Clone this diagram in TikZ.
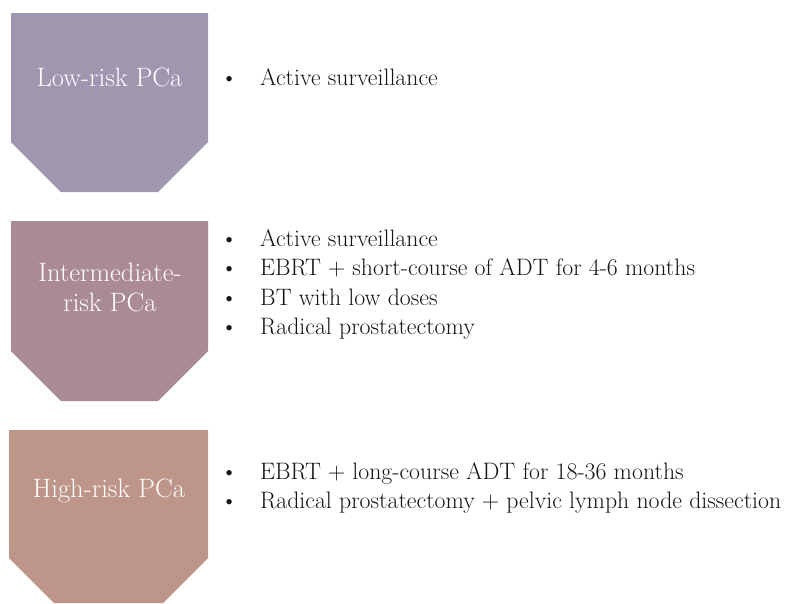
\documentclass[tikz,border=0pt]{standalone}
\usepackage{fontspec}
\setmainfont{Latin Modern Roman}
\definecolor{lowrisk}{HTML}{A196B0}
\definecolor{midrisk}{HTML}{AA8B93}
\definecolor{highrisk}{HTML}{BD9589}
\definecolor{bodytext}{HTML}{151515}
\begin{document}
\begin{tikzpicture}[x=1pt,y=-1pt,
  riskbox/.style={fill=#1,draw=none},
  risklabel/.style={anchor=base,inner sep=0pt,text=white,
    font=\fontsize{26.6}{30.5}\selectfont},
  treatlist/.style={anchor=base west,inner sep=0pt,text=bodytext,
    font=\fontsize{23.8}{29.5}\selectfont}]
\useasboundingbox (0,0) rectangle (786,603);

% chevron-shaped category panels
\path[riskbox=lowrisk]  (11,13)  -- (208,13)  -- (208,142) -- (158,192) -- (61,192) -- (11,142) -- cycle;
\path[riskbox=midrisk]  (11,221) -- (208,221) -- (208,351) -- (158,401) -- (61,401) -- (11,351) -- cycle;
\path[riskbox=highrisk] (9,430)  -- (208,430) -- (208,558) -- (163,603) -- (54,603) -- (9,558) -- cycle;

% category labels
\node[risklabel] (lowlabel) at (109.5,86) {Low-risk PCa};
\node[risklabel] (midlabel) at (110,281)
  {\begin{tabular}[t]{@{}c@{}}Intermediate-\\risk PCa\end{tabular}};
\node[risklabel] (highlabel) at (109,497) {High-risk PCa};

% treatment options
\node[treatlist] (lowlist) at (220.5,85)
  {\begin{tabular}[t]{@{}p{39.5pt}@{}l@{}}
   \textbullet & Active surveillance
   \end{tabular}};
\node[treatlist] (midlist) at (220.5,246)
  {\begin{tabular}[t]{@{}p{39.5pt}@{}l@{}}
   \textbullet & Active surveillance\\
   \textbullet & EBRT + short-course of ADT for 4-6 months\\
   \textbullet & BT with low doses\\
   \textbullet & Radical prostatectomy
   \end{tabular}};
\node[treatlist] (highlist) at (220.5,479)
  {\begin{tabular}[t]{@{}p{39.5pt}@{}l@{}}
   \textbullet & EBRT + long-course ADT for 18-36 months\\
   \textbullet & Radical prostatectomy + pelvic lymph node dissection
   \end{tabular}};
\end{tikzpicture}
\end{document}
